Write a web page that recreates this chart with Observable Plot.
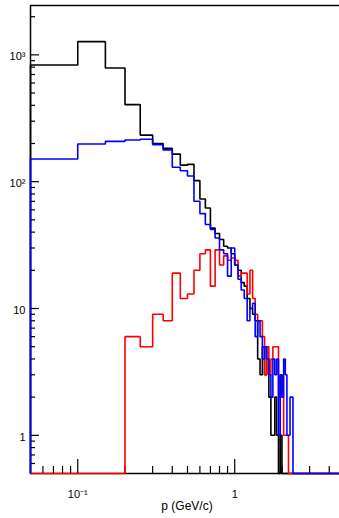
<!DOCTYPE html>
<html>
<head>
<meta charset="utf-8">
<script src="https://cdn.jsdelivr.net/npm/d3@7"></script>
<script src="https://cdn.jsdelivr.net/npm/@observablehq/plot@0.6"></script>
<style>
  html, body { margin: 0; padding: 0; background: #fff; }
  #chart { width: 339px; height: 518px; overflow: hidden; }
</style>
</head>
<body>
<div id="chart"></div>
<script>
// Bin low edges: uniform 0.05 GeV/c bins starting at 0.05
const binWidth = 0.05;
const binLow = [0.05,0.10,0.15,0.20,0.25,0.30,0.35,0.40,0.45,0.50,0.55,0.60,0.65,0.70,0.75,0.80,0.85,0.90,0.95,1.00,
                1.05,1.10,1.15,1.20,1.25,1.30,1.35,1.40,1.45,1.50,1.55,1.60,1.65,1.70,1.75,1.80,1.85,1.90,1.95,2.00,
                2.05,2.10,2.15,2.20,2.25,2.30,2.35,2.40,2.45];

const blackCounts = [832,1271,788,405,233,200,183,165,135,137,102,73,62,43,39,35,31,30,27,22,
                     20,16,15,12,10,9,8,4,3,5,3,4,2,1,1,2,1,0,1,0,
                     0,0,0,0,0,0,0,0,0];
const redCounts   = [0,0,0,6,5,9,8,19,12,13,20,27,29,15,29,22,26,24,25,24,
                     18,19,19,13,20,12,9,8,8,6,3,5,3,4,5,5,5,2,3,2,
                     1,1,1,0,0,0,0,0,0];
const blueCounts  = [151,198,208,213,216,196,178,130,122,111,70,56,46,42,36,29,27,18,30,22,
                     17,14,12,8,10,11,6,8,6,4,5,4,3,2,4,3,4,1,3,2,
                     4,3,1,1,2,2,0,0,0];

const xMin = 0.05, xMax = 4.65;
const yMin = 0.5, yMax = 2450;

const xMajorTicks = [0.1, 1];
const xMinorTicks = [0.06,0.07,0.08,0.09,0.2,0.3,0.4,0.5,0.6,0.7,0.8,0.9,2,3,4];
const yMajorTicks = [1, 10, 100, 1000];
const yMinorTicks = [0.6,0.7,0.8,0.9,2,3,4,5,6,7,8,9,20,30,40,50,60,70,80,90,200,300,400,500,600,700,800,900,2000];
const xTickLabels = [{v: 0.1, t: "10⁻¹"}, {v: 1, t: "1"}];
const yTickLabels = [{v: 1000, t: "10³"}, {v: 100, t: "10²"}, {v: 10, t: "10"}, {v: 1, t: "1"}];
const xTitle = "p (GeV/c)";

const W = 339, H = 518, mL = 30, mR = 0, mT = 5, mB = 45;
const plotW = W - mL - mR, plotH = H - mT - mB;

function stepPath(counts, name) {
  const pts = [{x: binLow[0], y: yMin, s: name}];
  counts.forEach((c, i) => {
    const v = Math.max(c, yMin);
    pts.push({x: binLow[i], y: v, s: name});
    pts.push({x: binLow[i] + binWidth, y: v, s: name});
  });
  pts.push({x: binLow[binLow.length - 1] + binWidth, y: yMin, s: name});
  pts.push({x: xMax, y: yMin, s: name});
  return pts;
}

const blackPts = stepPath(blackCounts, "black");
const redPts = stepPath(redCounts, "red");
const bluePts = stepPath(blueCounts, "blue");

const font = "Liberation Sans, Arial, Helvetica, sans-serif";

const chart = Plot.plot({
  width: W, height: H,
  marginLeft: mL, marginRight: mR, marginTop: mT, marginBottom: mB,
  style: {fontFamily: font, background: "#fff", overflow: "hidden"},
  x: {type: "log", domain: [xMin, xMax], axis: null},
  y: {type: "log", domain: [yMin, yMax], axis: null},
  marks: [
    // frame: top, bottom, left
    Plot.ruleY([yMax], {stroke: "#000", strokeWidth: 1.5}),
    Plot.ruleY([yMin], {stroke: "#000", strokeWidth: 1.5}),
    Plot.ruleX([xMin], {stroke: "#000", strokeWidth: 1.5}),
    // ticks pointing inward
    Plot.ruleX(xMinorTicks, {insetTop: plotH - 7, stroke: "#000", strokeWidth: 1.2}),
    Plot.ruleX(xMajorTicks, {insetTop: plotH - 14, stroke: "#000", strokeWidth: 1.2}),
    Plot.ruleY(yMinorTicks, {insetRight: plotW - 5, stroke: "#000", strokeWidth: 1.2}),
    Plot.ruleY(yMajorTicks, {insetRight: plotW - 9, stroke: "#000", strokeWidth: 1.2}),
    // histograms
    Plot.line(blackPts, {x: "x", y: "y", stroke: "#000000", strokeWidth: 1.6, strokeLinejoin: "miter", strokeLinecap: "butt"}),
    Plot.line(redPts, {x: "x", y: "y", stroke: "#ff0000", strokeWidth: 1.6, strokeLinejoin: "miter", strokeLinecap: "butt"}),
    Plot.line(bluePts, {x: "x", y: "y", stroke: "#0000ff", strokeWidth: 1.6, strokeLinejoin: "miter", strokeLinecap: "butt"}),
    // tick labels
    Plot.text(yTickLabels, {y: "v", text: "t", frameAnchor: "left", textAnchor: "end", dx: -5, dy: 2, fontSize: 11, fill: "#000"}),
    Plot.text(xTickLabels, {x: "v", text: "t", frameAnchor: "bottom", lineAnchor: "middle", dy: 21, fontSize: 11, fill: "#000"}),
    Plot.text([xTitle], {text: d => d, frameAnchor: "bottom", lineAnchor: "middle", dx: 2, dy: 33, fontSize: 12, fill: "#000"})
  ]
});

document.getElementById("chart").appendChild(chart);
</script>
</body>
</html>
